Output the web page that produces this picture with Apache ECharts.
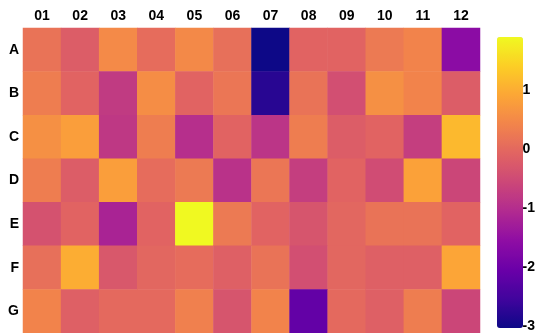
<!DOCTYPE html>
<html><head><meta charset="utf-8">
<script src="https://cdn.jsdelivr.net/npm/echarts@6/dist/echarts.min.js"></script>
<style>html,body{margin:0;padding:0;background:#fff}#c{width:538px;height:333px}</style>
</head><body><div id="c"></div>
<script>
const columns = ['01','02','03','04','05','06','07','08','09','10','11','12'];
const rows = ['A','B','C','D','E','F','G'];
const rowA = [0.17,-0.17,0.51,0.07,0.50,0.12,-3.00,-0.07,-0.07,0.27,0.42,-1.58];
const rowB = [0.32,-0.07,-0.76,0.56,-0.07,0.22,-2.75,0.17,-0.41,0.60,0.42,-0.17];
const rowC = [0.60,0.80,-0.80,0.32,-0.95,-0.07,-0.85,0.32,-0.17,-0.07,-0.70,1.15];
const rowD = [0.32,-0.17,0.80,0.07,0.27,-0.90,0.22,-0.70,-0.07,-0.46,0.85,-0.56];
const rowE = [-0.36,-0.07,-1.15,-0.07,1.90,0.27,-0.07,-0.31,-0.02,0.17,0.17,-0.07];
const rowF = [0.12,1.00,-0.27,-0.02,0.07,-0.12,0.17,-0.41,-0.02,-0.12,-0.12,0.90];
const rowG = [0.42,-0.12,0.02,0.02,0.37,-0.31,0.42,-2.10,0.02,-0.12,0.32,-0.56];
const colorTicks = [-3,-2,-1,0,1];
const vMin = -3, vMax = 1.9;

const allRows = [rowA,rowB,rowC,rowD,rowE,rowF,rowG];
const data = [];
allRows.forEach((r,ri)=>r.forEach((v,ci)=>data.push([ci,ri,v])));
const plasma = ['#0d0887','#41049d','#6a00a8','#8f0da4','#b12a90','#cc4778','#e16462','#f2844b','#fca636','#fcce25','#f0f921'];
const font = {fontFamily:'Liberation Sans, Arial, sans-serif', fontWeight:'bold', fontSize:14, color:'#000'};

const chart = echarts.init(document.getElementById('c'));
chart.setOption({
  animation:false,
  grid:[
    {left:23, top:28, width:457, height:305},
    {left:497, top:37, width:26, height:291}
  ],
  xAxis:[
    {type:'category', data:columns, position:'top', gridIndex:0,
     axisLine:{show:false}, axisTick:{show:false}, splitLine:{show:false},
     axisLabel:Object.assign({margin:5},font)},
    {type:'value', gridIndex:1, show:false, min:0, max:1}
  ],
  yAxis:[
    {type:'category', data:rows, inverse:true, gridIndex:0,
     axisLine:{show:false}, axisTick:{show:false}, splitLine:{show:false},
     axisLabel:Object.assign({margin:4},font)},
    {type:'value', gridIndex:1, min:vMin, max:vMax, interval:1, position:'right',
     axisLine:{show:false}, axisTick:{show:false}, splitLine:{show:false},
     axisLabel:Object.assign({margin:3, showMaxLabel:false, formatter:v=>colorTicks.includes(v)?String(v):''},font)}
  ],
  visualMap:{
    type:'continuous', min:vMin, max:vMax, seriesIndex:0, show:true,
    calculable:false, orient:'vertical', left:497, top:37, itemWidth:26, itemHeight:291,
    padding:0, text:['',''], showLabel:false,
    inRange:{color:plasma}
  },
  series:[{
    type:'heatmap', xAxisIndex:0, yAxisIndex:0, data:data,
    itemStyle:{borderWidth:0}, emphasis:{disabled:true}
  }]
});
</script></body></html>
